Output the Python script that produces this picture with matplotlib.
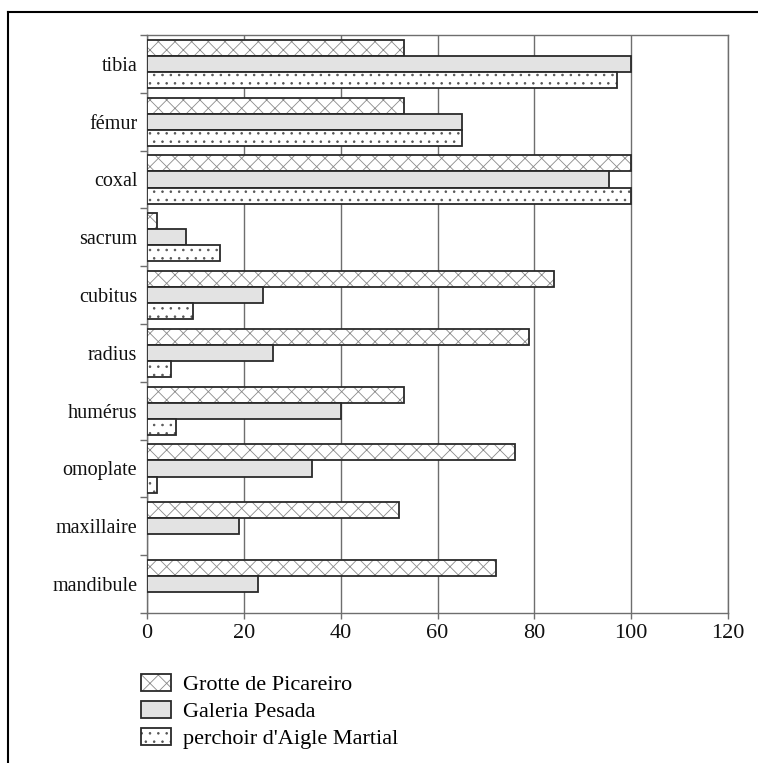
import matplotlib
matplotlib.use("Agg")
import matplotlib.pyplot as plt
import matplotlib.colors as mcolors
import numpy as np
from matplotlib.patches import Patch
from matplotlib.lines import Line2D

categories = ["mandibule", "maxillaire", "omoplate", "humérus", "radius",
              "cubitus", "sacrum", "coxal", "fémur", "tibia"]
picareiro = [72, 52, 76, 53, 79, 84, 2, 100, 53, 53]
galeria = [23, 19, 34, 40, 26, 24, 8, 95.5, 65, 100]
aigle = [0, 0, 2, 6, 5, 9.4, 15, 100, 65, 97]
series_names = ["Grotte de Picareiro", "Galeria Pesada", "perchoir d'Aigle Martial"]
xticks = [0, 20, 40, 60, 80, 100, 120]

plt.rcParams['font.family'] = ['Liberation Serif', 'DejaVu Serif']
plt.rcParams['hatch.linewidth'] = 0.6

W, H = 758, 763
fig = plt.figure(figsize=(W / 100, H / 100), dpi=100)
ax = fig.add_axes([147 / W, 1 - 613 / H, (728 - 147) / W, (613 - 35) / H])

y = np.arange(len(categories))
h = 0.277
edge = '#2a2a2a'
lw = 1.3
hatch_col = mcolors.to_rgba('#8a8a8a')
dot_col = mcolors.to_rgba('#555555')
hatch_p = 'xx'
hatch_a = '..'


def recolor(patches, col):
    for p in patches:
        p._hatch_color = col
        p.stale = True


b1 = ax.barh(y + h, picareiro, height=h, facecolor='white', edgecolor=edge,
             linewidth=lw, hatch=hatch_p, zorder=3)
recolor(b1, hatch_col)
ax.barh(y, galeria, height=h, facecolor='#e3e3e3', edgecolor=edge,
        linewidth=lw, zorder=3)
av = np.array(aigle, dtype=float)
mask = av > 0
b3 = ax.barh(y[mask] - h, av[mask], height=h, facecolor='white', edgecolor=edge,
             linewidth=lw, hatch=hatch_a, zorder=3)
recolor(b3, dot_col)

ax.set_xlim(0, 120)
ax.set_ylim(-0.5, len(categories) - 0.5)
ax.set_xticks(xticks)
ax.set_xticklabels([str(v) for v in xticks])
ax.set_yticks(y)
ax.set_yticklabels(categories)
ax.set_yticks(np.arange(-0.5, len(categories), 1.0), minor=True)

gcol = '#6e6e6e'
ax.xaxis.grid(True, color=gcol, linewidth=1.0, zorder=0)
ax.set_axisbelow(True)
for s in ax.spines.values():
    s.set_color(gcol)
    s.set_linewidth(1.0)

ax.tick_params(axis='y', which='major', length=0, pad=7, labelsize=14.5, colors='#111111')
ax.tick_params(axis='y', which='minor', length=5, width=1.0, color=gcol, direction='out')
ax.tick_params(axis='x', which='major', length=4, width=1.0, color=gcol, pad=4,
               labelsize=16, labelcolor='#111111')

handles = [Patch(facecolor='white', edgecolor=edge, hatch=hatch_p, linewidth=lw),
           Patch(facecolor='#e3e3e3', edgecolor=edge, linewidth=lw),
           Patch(facecolor='white', edgecolor=edge, hatch=hatch_a, linewidth=lw)]
leg = fig.legend(handles, series_names, loc='upper left',
                 bbox_to_anchor=(141 / W, 1 - 674 / H), frameon=False, fontsize=16,
                 handlelength=1.35, handleheight=0.8, handletextpad=0.55,
                 labelspacing=0.25, borderpad=0, borderaxespad=0)
lh = leg.legend_handles
recolor([lh[0]], hatch_col)
recolor([lh[2]], dot_col)

# figure frame (top and left edges)
fig.add_artist(Line2D([8 / W, 1], [1 - 12 / H, 1 - 12 / H], color='black',
                      linewidth=1.5, transform=fig.transFigure))
fig.add_artist(Line2D([8 / W, 8 / W], [0, 1 - 12 / H], color='black',
                      linewidth=1.5, transform=fig.transFigure))

fig.savefig("out.png", dpi=100)
